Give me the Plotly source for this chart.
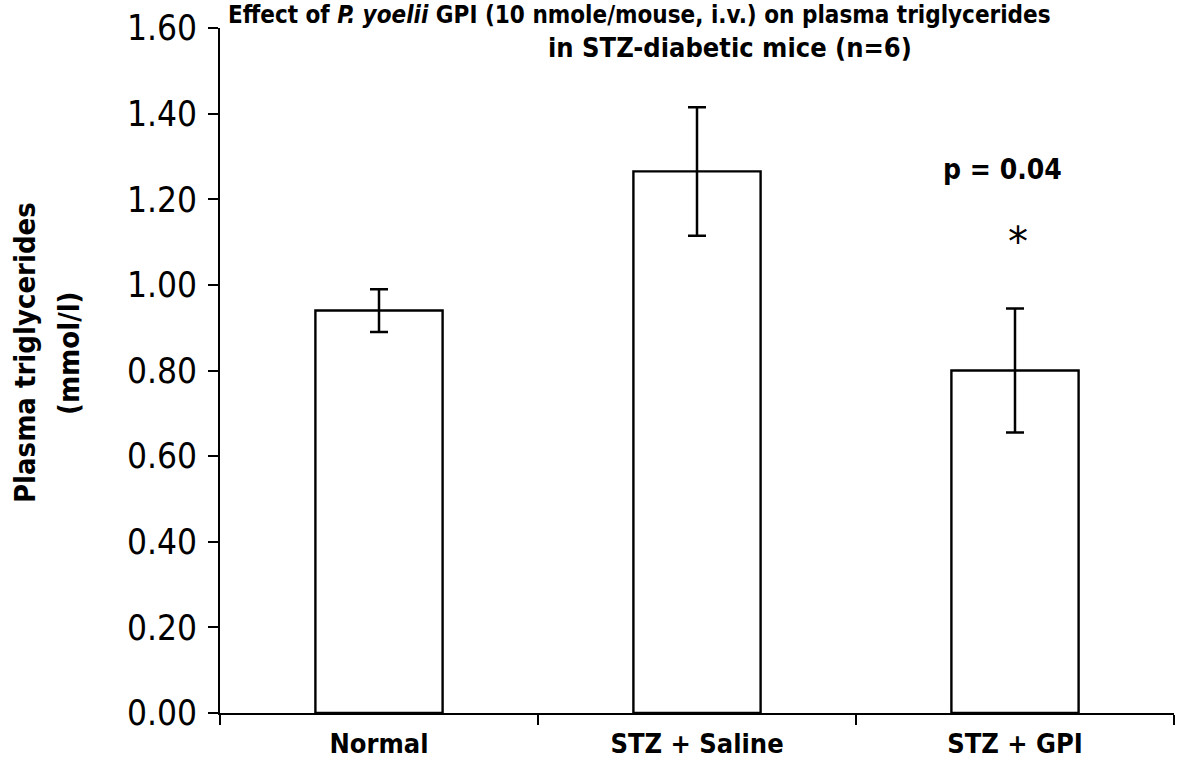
import plotly.graph_objects as go

# Plasma triglyceride means and SEM per treatment group
groups = ["Normal", "STZ + Saline", "STZ + GPI"]
triglycerides = [0.94, 1.265, 0.80]
sem = [0.05, 0.15, 0.145]

y_ticks = [0.0, 0.2, 0.4, 0.6, 0.8, 1.0, 1.2, 1.4, 1.6]

NARROW = "DejaVu Sans Condensed, Liberation Sans Narrow, sans-serif"
BLACK = "black"

fig = go.Figure(
    go.Bar(
        x=groups,
        y=triglycerides,
        width=0.4,
        marker=dict(color="white", line=dict(color=BLACK, width=2.4)),
        error_y=dict(type="data", array=sem, visible=True,
                     color=BLACK, thickness=2.5, width=9),
    )
)

# two-line title
fig.add_annotation(
    x=0.006, y=1, xref="paper", yref="paper", xanchor="left", yanchor="top", yshift=29,
    text="Effect of <i>P. yoelii</i> GPI (10 nmole/mouse, i.v.) on plasma triglycerides",
    showarrow=False, font=dict(family=NARROW, size=24, color=BLACK, weight="bold"),
)
fig.add_annotation(
    x=0.5345, y=1, xref="paper", yref="paper", xanchor="center", yanchor="middle", yshift=-19,
    text="in STZ-diabetic mice (n=6)",
    showarrow=False, font=dict(family=NARROW, size=27, color=BLACK, weight="bold"),
)

# y-axis title, one annotation per line
fig.add_annotation(
    x=0, y=0.5255, xref="paper", yref="paper", xanchor="center", yanchor="middle",
    xshift=-195, textangle=-90,
    text="Plasma triglycerides", showarrow=False,
    font=dict(family=NARROW, size=29, color=BLACK, weight="bold"),
)
fig.add_annotation(
    x=0, y=0.5255, xref="paper", yref="paper", xanchor="center", yanchor="middle",
    xshift=-151, textangle=-90,
    text="(mmol/l)", showarrow=False,
    font=dict(family=NARROW, size=29, color=BLACK, weight="bold"),
)

# significance marks over the GPI group
fig.add_annotation(
    x="STZ + GPI", y=1.269, text="p = 0.04", xshift=-13, showarrow=False,
    font=dict(family=NARROW, size=28, color=BLACK, weight="bold"),
)
fig.add_annotation(
    x="STZ + GPI", y=1.10, text="*", xshift=3, showarrow=False,
    font=dict(family="DejaVu Sans, sans-serif", size=40, color=BLACK),
)

fig.update_layout(
    width=1178, height=773,
    margin=dict(l=220, r=4, t=28, b=60),
    plot_bgcolor="white", paper_bgcolor="white",
    showlegend=False,
)

fig.update_xaxes(
    showline=True, linecolor=BLACK, linewidth=2,
    ticks="outside", tickson="boundaries", ticklen=10, tickwidth=2, tickcolor=BLACK,
    tickfont=dict(family=NARROW, size=27, color=BLACK, weight="bold"),
    ticklabelstandoff=6,
    showgrid=False,
)
fig.update_yaxes(
    range=[0, 1.6], tickvals=y_ticks, tickformat=".2f",
    showline=True, linecolor=BLACK, linewidth=2,
    ticks="outside", ticklen=10, tickwidth=2, tickcolor=BLACK,
    tickfont=dict(family=NARROW, size=35, color=BLACK),
    ticklabelstandoff=4,
    showgrid=False, zeroline=False,
)

fig.write_html("out.html")
